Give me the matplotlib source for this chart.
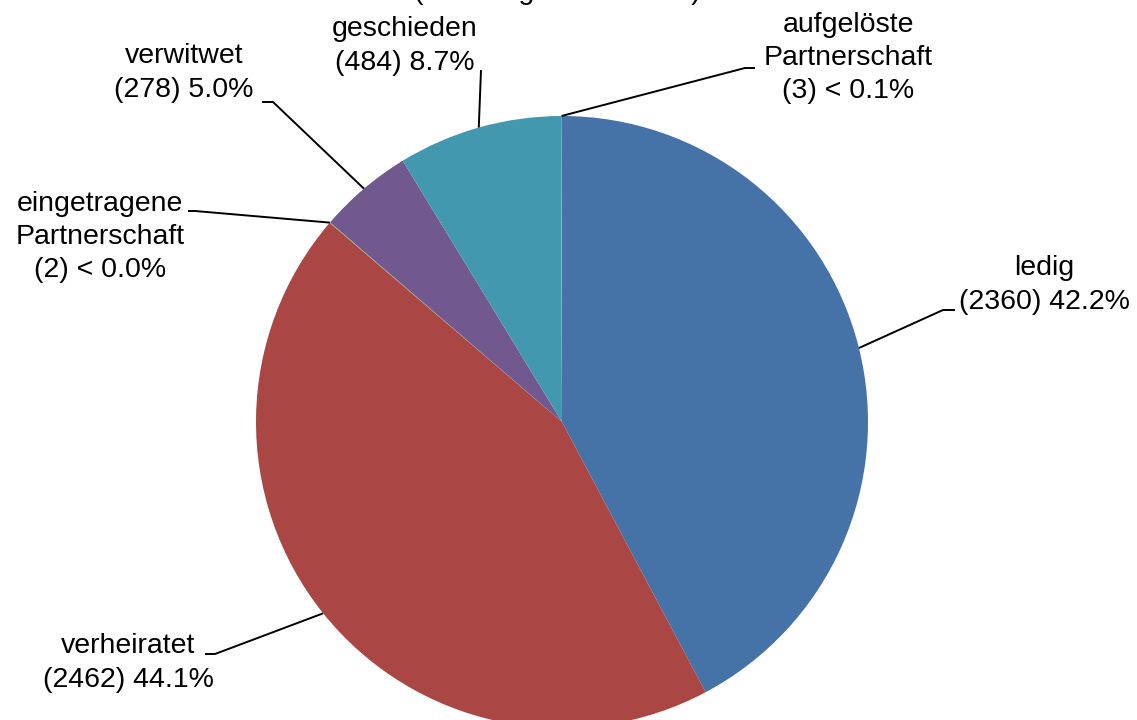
import matplotlib
matplotlib.use("Agg")
import matplotlib.pyplot as plt
import numpy as np

plt.rcParams['font.family'] = ['Liberation Sans', 'DejaVu Sans']

# ---- data ----
categories = ["ledig", "verheiratet", "eingetragene\nPartnerschaft", "verwitwet",
              "geschieden", "aufgelöste\nPartnerschaft"]
counts = [2360, 2462, 2, 278, 484, 3]
pct_labels = ["42.2%", "44.1%", "< 0.0%", "5.0%", "8.7%", "< 0.1%"]
colors = ["#4572A7", "#AA4643", "#89A54E", "#71588F", "#4198AF", "#DB843D"]
top_text = "(Anzahl gesamt: 5589)"

# ---- layout (pixel space, y up) ----
W, H = 1137, 720
def P(x, y):
    return (x, H - y)

center = P(562, 422)
radius = 306

# label centers, elbow points, end points (pixel coords, y down)
label_pos = [(1044, 285), (128, 663), (100, 237), (184, 73), (405, 46), (848, 58)]
elbows = [(943, 310), (215, 654), (195, 211), (273, 102), (481, 70), (745, 68)]
ends = [(955, 310), (205, 654), (188, 211), (262, 102), (481, 70), (755, 68)]

fig = plt.figure(figsize=(W / 100, H / 100), dpi=100)
ax = fig.add_axes([0, 0, 1, 1])

wedges, _ = ax.pie(counts, colors=colors, startangle=90, counterclock=False,
                   center=center, radius=radius,
                   wedgeprops=dict(linewidth=0))
ax.set_xlim(0, W)
ax.set_ylim(0, H)
ax.set_aspect('equal')
ax.axis('off')

fs = 20.5
for i, w in enumerate(wedges):
    mid = np.deg2rad((w.theta1 + w.theta2) / 2)
    ax_pt = (center[0] + radius * np.cos(mid), center[1] + radius * np.sin(mid))
    e = P(*elbows[i])
    n = P(*ends[i])
    ax.plot([ax_pt[0], e[0], n[0]], [ax_pt[1], e[1], n[1]], color='black',
            linewidth=1.4, solid_capstyle='butt', zorder=3)
    txt = f"{categories[i]}\n({counts[i]}) {pct_labels[i]}"
    lx, ly = P(*label_pos[i])
    ax.text(lx, ly, txt, ha='center', va='center', multialignment='center',
            fontsize=fs, linespacing=1.36, color='black')

ax.text(557, H + 1, top_text, ha='center', va='baseline', fontsize=fs,
        color='black', clip_on=False)

fig.savefig("out.png", dpi=100)
